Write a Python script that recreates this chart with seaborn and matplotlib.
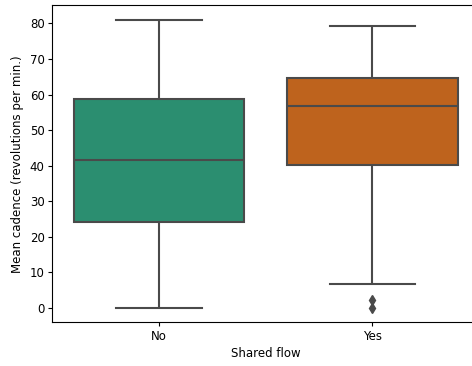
import pandas as pd
import seaborn as sns
import matplotlib.pyplot as plt

no_values = [0, 8, 16, 24.2, 30, 36, 41.5, 47, 53, 58.9, 66, 74, 81]
yes_values = [0, 2.4, 6.8, 40.3, 45, 51, 56.7, 59, 62, 64.8, 70, 75, 79.2]
categories = ["No", "Yes"]


def main():
    df = pd.DataFrame({
        "Shared flow": ["No"] * len(no_values) + ["Yes"] * len(yes_values),
        "cadence": no_values + yes_values,
    })

    plt.rcParams['font.size'] = 8.5
    fig, ax = plt.subplots(figsize=(4.72, 3.66), dpi=100)
    sns.boxplot(data=df, x="Shared flow", y="cadence", hue="Shared flow",
                order=categories, palette="Dark2", legend=False, ax=ax,
                linecolor="#4a4a4a", linewidth=1.5,
                flierprops=dict(marker="d", markerfacecolor="#4a4a4a",
                                markeredgecolor="#4a4a4a", markersize=5))
    ax.set_xlabel("Shared flow", labelpad=3)
    ax.set_ylabel("Mean cadence (revolutions per min.)")
    ax.tick_params(length=2.6, pad=3)

    # reference is cropped on the right, so the axes run past the figure edge
    fig.subplots_adjust(left=0.111, right=1.015, bottom=0.119, top=0.985)
    plt.savefig("out.png")


if __name__ == '__main__':
    main()
